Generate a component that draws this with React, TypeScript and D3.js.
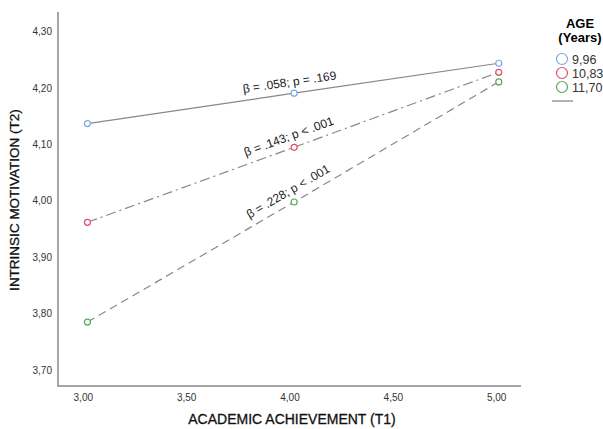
import React, { useEffect, useRef } from 'react';
import * as d3 from 'd3';

// Simple slopes of intrinsic motivation on achievement, by age
const xValues = [3.02, 4.02, 5.01];
const ageGroups = ['9,96', '10,83', '11,70'];
const seriesValues = [
  [4.137, 4.191, 4.244],
  [3.962, 4.095, 4.228],
  [3.785, 3.998, 4.211],
];
const slopeLabels = ['β = .058; p = .169', 'β = .143; p < .001', 'β = .228; p < .001'];
const xTicks = [3.0, 3.5, 4.0, 4.5, 5.0];
const yTicks = [3.7, 3.8, 3.9, 4.0, 4.1, 4.2, 4.3];

const colors = ['#7ea9e6', '#e0506a', '#55aa55'];
const dashes = ['none', '10,4,2,4', '8,5'];
const fmt = (v: number) => d3.format('.2f')(v).replace('.', ',');

const App = () => {
  const svgRef = useRef<SVGSVGElement>(null);

  useEffect(() => {
    const svg = d3.select(svgRef.current);
    svg.selectAll('*').remove();

    const x = d3.scaleLinear().domain([3, 5]).range([83.3, 496.7]);
    const y = d3.scaleLinear().domain([3.7, 4.3]).range([370, 31.7]);
    const left = 58, right = 521, top = 12, bottom = 386;
    const font = '"Liberation Sans", Arial, sans-serif';

    // axes
    svg.append('path')
      .attr('d', `M${left},${top}V${bottom}H${right}`)
      .attr('fill', 'none')
      .attr('stroke', '#888')
      .attr('stroke-width', 1.5);

    svg.selectAll('.ytick').data(yTicks).enter().append('text')
      .attr('x', left - 6)
      .attr('y', d => y(d) + 3.5)
      .attr('text-anchor', 'end')
      .style('font-family', font)
      .style('font-size', '10px')
      .style('fill', '#333')
      .text(d => fmt(d));

    svg.selectAll('.xtick').data(xTicks).enter().append('text')
      .attr('x', d => x(d))
      .attr('y', 401)
      .attr('text-anchor', 'middle')
      .style('font-family', font)
      .style('font-size', '10px')
      .style('fill', '#333')
      .text(d => fmt(d));

    // axis titles
    svg.append('text')
      .attr('x', 292)
      .attr('y', 424)
      .attr('text-anchor', 'middle')
      .style('font-family', font)
      .style('font-size', '14px')
      .style('fill', '#111')
      .style('stroke', '#111')
      .style('stroke-width', 0.3)
      .text('ACADEMIC ACHIEVEMENT (T1)');

    svg.append('text')
      .attr('transform', `translate(19,200) rotate(-90)`)
      .attr('text-anchor', 'middle')
      .style('font-family', font)
      .style('font-size', '13.5px')
      .style('fill', '#111')
      .style('stroke', '#111')
      .style('stroke-width', 0.3)
      .text('INTRINSIC MOTIVATION (T2)');

    const line = d3.line<number>()
      .x((_, i) => x(xValues[i]))
      .y(d => y(d));

    seriesValues.forEach((vals, s) => {
      svg.append('path')
        .attr('d', line(vals))
        .attr('fill', 'none')
        .attr('stroke', '#888')
        .attr('stroke-width', 1.2)
        .attr('stroke-dasharray', dashes[s]);

      vals.forEach((v, i) => {
        svg.append('circle')
          .attr('cx', x(xValues[i]))
          .attr('cy', y(v))
          .attr('r', 3)
          .attr('fill', 'white')
          .attr('stroke', colors[s])
          .attr('stroke-width', 1.2);
      });

      // slope label above the middle point, rotated along the line
      const x0 = x(xValues[0]), y0 = y(vals[0]);
      const x2 = x(xValues[2]), y2 = y(vals[2]);
      const angle = Math.atan2(y2 - y0, x2 - x0) * 180 / Math.PI;
      const mx = x(xValues[1]), my = y(vals[1]);
      svg.append('text')
        .attr('transform', `translate(${mx - 4},${my - 7}) rotate(${angle})`)
        .attr('text-anchor', 'middle')
        .style('font-family', font)
        .style('font-size', '12px')
        .style('fill', '#222')
        .text(slopeLabels[s]);
    });

    // legend
    const lg = svg.append('g');
    lg.append('text')
      .attr('x', 580).attr('y', 28)
      .attr('text-anchor', 'middle')
      .style('font-family', font)
      .style('font-size', '13px')
      .style('font-weight', 'bold')
      .text('AGE');
    lg.append('text')
      .attr('x', 580).attr('y', 42)
      .attr('text-anchor', 'middle')
      .style('font-family', font)
      .style('font-size', '13px')
      .style('font-weight', 'bold')
      .text('(Years)');
    ageGroups.forEach((g, i) => {
      lg.append('circle')
        .attr('cx', 562).attr('cy', 59 + i * 14)
        .attr('r', 5.5)
        .attr('fill', 'none')
        .attr('stroke', colors[i])
        .attr('stroke-width', 1.2);
      lg.append('text')
        .attr('x', 572).attr('y', 63.5 + i * 14)
        .style('font-family', font)
        .style('font-size', '12.5px')
        .style('fill', '#333')
        .text(g);
    });
    lg.append('line')
      .attr('x1', 552).attr('x2', 573)
      .attr('y1', 101).attr('y2', 101)
      .attr('stroke', '#999')
      .attr('stroke-width', 1.5);
  }, []);

  return (
    <svg ref={svgRef} width={603} height={429}
      style={{ position: 'absolute', left: 0, top: 0, background: 'white' }} />
  );
};

export default App;
